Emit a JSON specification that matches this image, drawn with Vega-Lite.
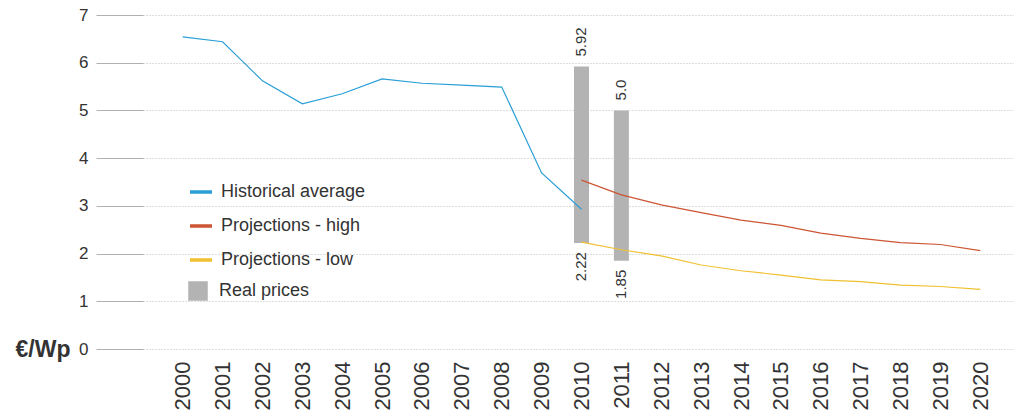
{
  "$schema": "https://vega.github.io/schema/vega-lite/v6.json",
  "width": 871,
  "height": 334,
  "autosize": {"type": "none"},
  "padding": {"left": 143, "top": 15, "right": 0, "bottom": 70},
  "background": "white",
  "config": {
    "view": {"stroke": null},
    "font": "Liberation Sans",
    "axis": {"labelFont": "Liberation Sans", "titleFont": "Liberation Sans"},
    "legend": {"labelFont": "Liberation Sans"}
  },
  "datasets": {
    "lines": [
      {"year": 2000, "series": "Historical average", "value": 6.54},
      {"year": 2001, "series": "Historical average", "value": 6.44},
      {"year": 2002, "series": "Historical average", "value": 5.62},
      {"year": 2003, "series": "Historical average", "value": 5.14},
      {"year": 2004, "series": "Historical average", "value": 5.35},
      {"year": 2005, "series": "Historical average", "value": 5.66},
      {"year": 2006, "series": "Historical average", "value": 5.57},
      {"year": 2007, "series": "Historical average", "value": 5.53},
      {"year": 2008, "series": "Historical average", "value": 5.49},
      {"year": 2009, "series": "Historical average", "value": 3.69},
      {"year": 2010, "series": "Historical average", "value": 2.93},
      {"year": 2010, "series": "Projections - high", "value": 3.54},
      {"year": 2011, "series": "Projections - high", "value": 3.23},
      {"year": 2012, "series": "Projections - high", "value": 3.02},
      {"year": 2013, "series": "Projections - high", "value": 2.86},
      {"year": 2014, "series": "Projections - high", "value": 2.70},
      {"year": 2015, "series": "Projections - high", "value": 2.59},
      {"year": 2016, "series": "Projections - high", "value": 2.43},
      {"year": 2017, "series": "Projections - high", "value": 2.32},
      {"year": 2018, "series": "Projections - high", "value": 2.23},
      {"year": 2019, "series": "Projections - high", "value": 2.19},
      {"year": 2020, "series": "Projections - high", "value": 2.06},
      {"year": 2010, "series": "Projections - low", "value": 2.24},
      {"year": 2011, "series": "Projections - low", "value": 2.08},
      {"year": 2012, "series": "Projections - low", "value": 1.95},
      {"year": 2013, "series": "Projections - low", "value": 1.76},
      {"year": 2014, "series": "Projections - low", "value": 1.64},
      {"year": 2015, "series": "Projections - low", "value": 1.55},
      {"year": 2016, "series": "Projections - low", "value": 1.45},
      {"year": 2017, "series": "Projections - low", "value": 1.41},
      {"year": 2018, "series": "Projections - low", "value": 1.34},
      {"year": 2019, "series": "Projections - low", "value": 1.31},
      {"year": 2020, "series": "Projections - low", "value": 1.25}
    ],
    "bars": [
      {"year": 2010, "low": 2.22, "high": 5.92, "lowLabel": "2.22", "highLabel": "5.92", "kind": "Real prices"},
      {"year": 2011, "low": 1.85, "high": 5.0, "lowLabel": "1.85", "highLabel": "5.0", "kind": "Real prices"}
    ]
  },
  "layer": [
    {
      "data": {"name": "bars"},
      "mark": {"type": "bar", "size": 15},
      "encoding": {
        "x": {
          "field": "year", "type": "quantitative",
          "scale": {"domain": [1999.13, 2020.72], "nice": false, "zero": false},
          "axis": {
            "values": [2000,2001,2002,2003,2004,2005,2006,2007,2008,2009,2010,2011,2012,2013,2014,2015,2016,2017,2018,2019,2020],
            "format": "d", "labelAngle": -90, "labelFontSize": 22, "labelColor": "#333333",
            "labelPadding": 12, "ticks": false, "domain": false, "grid": false, "title": null,
            "labelFlush": false, "labelOverlap": false
          }
        },
        "y": {
          "field": "low", "type": "quantitative",
          "scale": {"domain": [0, 7], "nice": false},
          "axis": {
            "values": [0,1,2,3,4,5,6,7], "labelFontSize": 17, "labelColor": "#333333",
            "labelPadding": 8, "tickSize": 47, "tickColor": "#b0b0b0", "tickWidth": 1.2,
            "domain": false, "grid": true, "gridColor": "#bdbdbd", "gridDash": [1, 2], "gridWidth": 1,
            "title": "€/Wp", "titleAngle": 0, "titleFontSize": 23, "titleFontWeight": "bold",
            "titleColor": "#333333", "titleAlign": "right", "titleBaseline": "middle",
            "titleX": -73, "titleY": 334
          }
        },
        "y2": {"field": "high"},
        "fill": {
          "field": "kind", "type": "nominal",
          "scale": {"domain": ["Real prices"], "range": ["#b3b3b3"]},
          "legend": {
            "title": null, "orient": "none", "legendX": 45, "legendY": 266,
            "symbolType": "square", "symbolSize": 380, "symbolStrokeWidth": 0,
            "labelFontSize": 18, "labelColor": "#333333", "labelOffset": 11, "padding": 0
          }
        }
      }
    },
    {
      "data": {"name": "lines"},
      "mark": {"type": "line", "strokeWidth": 1.2},
      "encoding": {
        "x": {"field": "year", "type": "quantitative"},
        "y": {"field": "value", "type": "quantitative"},
        "detail": {"field": "series"},
        "stroke": {
          "field": "series", "type": "nominal",
          "scale": {"domain": ["Historical average", "Projections - high", "Projections - low"], "range": ["#2a9ed6", "#cc5533", "#f0c030"]},
          "legend": {
            "title": null, "orient": "none", "legendX": 45, "legendY": 164,
            "symbolType": "stroke", "symbolSize": 484, "symbolStrokeWidth": 3.5,
            "labelFontSize": 18, "labelColor": "#333333", "labelOffset": 7, "rowPadding": 12, "padding": 0
          }
        }
      }
    },
    {
      "data": {"name": "bars"},
      "mark": {"type": "text", "angle": 270, "align": "left", "baseline": "middle", "dx": 10, "fontSize": 15, "color": "#333333"},
      "encoding": {
        "x": {"field": "year", "type": "quantitative"},
        "y": {"field": "high", "type": "quantitative"},
        "text": {"field": "highLabel"}
      }
    },
    {
      "data": {"name": "bars"},
      "mark": {"type": "text", "angle": 270, "align": "right", "baseline": "middle", "dx": -9, "fontSize": 15, "color": "#333333"},
      "encoding": {
        "x": {"field": "year", "type": "quantitative"},
        "y": {"field": "low", "type": "quantitative"},
        "text": {"field": "lowLabel"}
      }
    }
  ]
}
